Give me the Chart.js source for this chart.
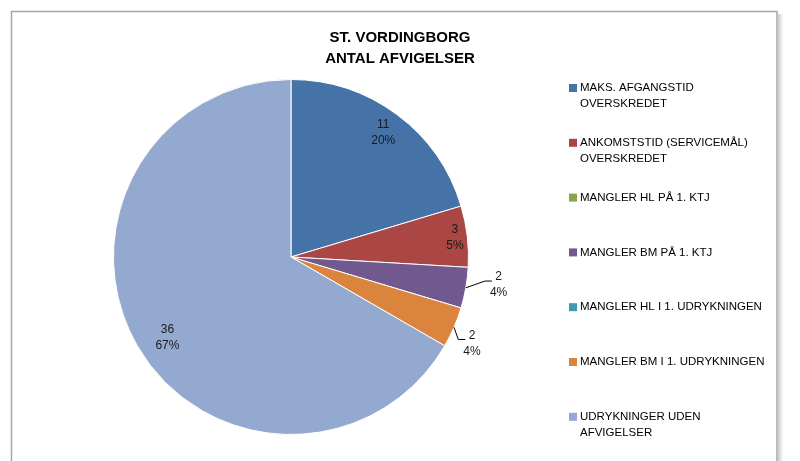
<!DOCTYPE html>
<html>
<head>
<meta charset="utf-8">
<script src="https://cdn.jsdelivr.net/npm/chart.js@4.4.0/dist/chart.umd.min.js"></script>
<style>
  html, body { margin: 0; padding: 0; background: #fff; }
  #wrap { width: 800px; height: 461px; position: relative; }
</style>
</head>
<body>
<div id="wrap"><canvas id="chart" width="800" height="461"></canvas></div>
<script>
// Data
const categories = [
    ['MAKS. AFGANGSTID', 'OVERSKREDET'],
    ['ANKOMSTSTID (SERVICEMÅL)', 'OVERSKREDET'],
    ['MANGLER HL PÅ 1. KTJ'],
    ['MANGLER BM PÅ 1. KTJ'],
    ['MANGLER HL I 1. UDRYKNINGEN'],
    ['MANGLER BM I 1. UDRYKNINGEN'],
    ['UDRYKNINGER UDEN', 'AFVIGELSER']
];
const counts = [11, 3, 0, 2, 0, 2, 36];
const percentLabels = ['20%', '5%', '0%', '4%', '0%', '4%', '67%'];
const titleLines = ['ST. VORDINGBORG', 'ANTAL AFVIGELSER'];

const colors = ['#4572A7', '#AA4643', '#89A54E', '#71588F', '#4198AF', '#DB843D', '#93A9CF'];

// label placement per slice: radius factor (of outer radius), outside => leader line
const labelPlace = [
    { r: 0.87 }, { r: 0.93 }, null, { r: 1.18, da: -2.3, out: true }, null,
    { r: 1.13, da: 2.2, out: true }, { r: 0.83, da: -3 }
];

const FONT = '"Liberation Sans", Arial, sans-serif';

// frame, title and legend
const framePlugin = {
    id: 'frame',
    beforeDraw(chart) {
        const ctx = chart.ctx;
        ctx.save();
        ctx.fillStyle = '#fff';
        ctx.fillRect(0, 0, chart.width, chart.height);
        // shadow on right
        for (let i = 0; i < 5; i++) {
            ctx.fillStyle = 'rgba(0,0,0,' + (0.18 - i * 0.035) + ')';
            ctx.fillRect(778 + i, 14, 1, chart.height);
        }
        ctx.strokeStyle = '#a6a6a6';
        ctx.lineWidth = 1.5;
        ctx.beginPath();
        ctx.moveTo(11.5, chart.height + 2);
        ctx.lineTo(11.5, 11.5);
        ctx.lineTo(777, 11.5);
        ctx.lineTo(777, chart.height + 2);
        ctx.stroke();
        ctx.restore();
    },
    afterDraw(chart) {
        const ctx = chart.ctx;
        ctx.save();
        // title
        ctx.fillStyle = '#000';
        ctx.font = 'bold 15px ' + FONT;
        ctx.textAlign = 'center';
        ctx.textBaseline = 'middle';
        titleLines.forEach((t, i) => ctx.fillText(t, 400, 38 + i * 21));
        // legend
        ctx.font = '11.5px ' + FONT;
        ctx.textAlign = 'left';
        const ds = chart.data.datasets[0];
        chart.data.labels.forEach((lines, i) => {
            const y = 88 + i * 54.8;
            ctx.fillStyle = ds.backgroundColor[i];
            ctx.fillRect(569, y - 4, 8, 8);
            ctx.fillStyle = '#000';
            lines.forEach((l, j) => ctx.fillText(l, 580, y + j * 16));
        });
        ctx.restore();
    }
};

const dataLabelPlugin = {
    id: 'sliceLabels',
    afterDatasetsDraw(chart) {
        const ctx = chart.ctx;
        const meta = chart.getDatasetMeta(0);
        ctx.save();
        ctx.font = '12px ' + FONT;
        ctx.fillStyle = '#1a1a1a';
        ctx.textAlign = 'center';
        ctx.textBaseline = 'middle';
        meta.data.forEach((arc, i) => {
            const place = labelPlace[i];
            if (!place || counts[i] === 0) return;
            const p = arc.getProps(['x', 'y', 'startAngle', 'endAngle', 'outerRadius'], true);
            const mid = (p.startAngle + p.endAngle) / 2;
            const a = mid + (place.da || 0) * Math.PI / 180;
            const lx = p.x + Math.cos(a) * p.outerRadius * place.r;
            const ly = p.y + Math.sin(a) * p.outerRadius * place.r;
            const lines = [String(counts[i]), percentLabels[i]];
            lines.forEach((t, j) => ctx.fillText(t, lx, ly - 8 + j * 16));
            if (place.out) {
                const w = ctx.measureText(percentLabels[i]).width / 2;
                const sx = p.x + Math.cos(mid) * p.outerRadius;
                const sy = p.y + Math.sin(mid) * p.outerRadius;
                const ex = lx - w + 2;
                const ey = ly - 4;
                ctx.strokeStyle = '#000';
                ctx.lineWidth = 1;
                ctx.beginPath();
                ctx.moveTo(sx, sy);
                ctx.lineTo(ex - 7, ey);
                ctx.lineTo(ex, ey);
                ctx.stroke();
            }
        });
        ctx.restore();
    }
};

new Chart(document.getElementById('chart'), {
    type: 'pie',
    data: {
        labels: categories,
        datasets: [{
            data: counts,
            backgroundColor: colors,
            borderColor: '#fff',
            borderWidth: 1
        }]
    },
    options: {
        responsive: false,
        animation: false,
        layout: { padding: { left: 113, right: 331, top: 79, bottom: 26 } },
        plugins: {
            legend: { display: false },
            title: { display: false },
            tooltip: { enabled: false }
        }
    },
    plugins: [framePlugin, dataLabelPlugin]
});
</script>
</body>
</html>
